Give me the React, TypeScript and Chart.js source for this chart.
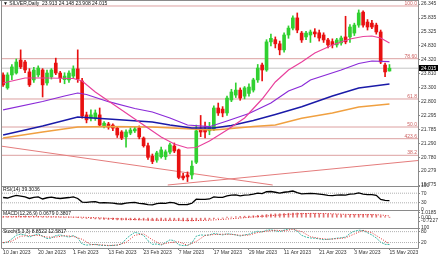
import React, { useEffect, useRef } from 'react';
import { Chart, registerables } from 'chart.js';

Chart.register(...registerables);

// ---------------- data ----------------
const dateTickIdx = [0, 8, 16, 24, 32, 40, 48, 56, 64, 72, 80, 88];
const dateLabels = ['10 Jan 2023', '20 Jan 2023', '1 Feb 2023', '13 Feb 2023', '23 Feb 2023', '7 Mar 2023', '17 Mar 2023', '29 Mar 2023', '11 Apr 2023', '21 Apr 2023', '3 May 2023', '15 May 2023'];
const priceTicks = [26.345, 25.835, 25.325, 24.83, 24.32, 23.81, 23.3, 22.8, 22.295, 21.785, 21.29, 20.78, 20.279, 19.775];

const opens = [
  23.77, 23.30, 23.77, 23.84, 24.31, 24.24, 23.88, 23.59, 23.77, 23.95,
  23.48, 23.70, 24.20, 23.84, 23.60, 23.59, 23.73, 23.99, 23.55, 22.32,
  22.20, 22.20, 22.32, 21.92, 21.99, 21.95, 21.84, 21.70, 21.52, 21.66,
  21.74, 21.84, 21.48, 21.20, 20.82, 20.68, 20.80, 20.80, 20.97, 21.19,
  21.05, 20.10, 20.14, 20.14, 20.60, 21.81, 21.80, 21.74, 21.80, 22.57,
  22.53, 22.39, 22.86, 23.04, 23.22, 23.00, 23.10, 23.22, 23.59, 24.13,
  23.95, 24.97, 25.05, 24.90, 24.68, 25.22, 25.47, 25.84, 25.29, 25.15,
  25.22, 25.33, 25.30, 25.22, 25.04, 24.98, 24.86, 24.93, 25.15, 25.15,
  25.29, 25.58, 26.05, 25.69, 25.65, 25.58, 25.33, 24.13, 23.913,
];
const highs = [
  23.85, 23.85, 24.15, 24.35, 24.68, 24.30, 24.00, 24.05, 24.10, 24.00,
  23.95, 24.00, 24.38, 23.90, 23.85, 23.92, 24.10, 24.68, 23.65, 22.42,
  22.50, 22.50, 22.57, 22.08, 22.05, 22.00, 21.90, 21.75, 21.78, 21.85,
  21.88, 21.92, 21.52, 21.30, 20.90, 21.00, 21.15, 21.05, 21.30, 21.30,
  21.08, 20.20, 20.25, 20.65, 21.95, 22.30, 22.06, 22.05, 22.65, 22.75,
  22.62, 23.00, 23.25, 23.48, 23.30, 23.35, 23.45, 23.65, 24.15, 24.20,
  25.05, 25.25, 25.15, 25.00, 25.30, 25.55, 25.92, 26.02, 25.35, 25.35,
  25.40, 25.45, 25.40, 25.30, 25.10, 25.08, 25.10, 25.18, 25.90, 25.60,
  25.65, 26.13, 26.10, 25.78, 25.75, 25.65, 25.40, 24.20, 24.148,
];
const lows = [
  23.35, 23.25, 23.60, 23.80, 24.00, 23.85, 23.35, 23.50, 23.70, 22.97,
  23.40, 23.62, 23.78, 23.50, 23.45, 23.50, 23.65, 23.50, 22.20, 22.03,
  22.10, 22.12, 21.90, 21.85, 21.80, 21.75, 21.50, 21.42, 21.15, 21.60,
  21.68, 21.45, 21.15, 20.70, 20.55, 20.60, 20.75, 20.70, 20.90, 20.95,
  20.00, 19.96, 19.90, 20.00, 20.55, 21.53, 21.48, 21.60, 21.75, 22.30,
  22.25, 22.30, 22.80, 22.95, 22.85, 22.90, 23.00, 23.15, 23.50, 23.55,
  23.90, 24.82, 24.75, 24.50, 24.60, 25.10, 25.40, 25.30, 24.95, 25.05,
  24.95, 25.15, 25.00, 24.95, 24.75, 24.75, 24.78, 24.85, 24.90, 24.95,
  25.20, 25.50, 25.50, 25.40, 25.45, 25.25, 24.18, 23.71, 23.908,
];
const closes = [
  23.41, 23.77, 24.06, 24.24, 24.06, 23.95, 23.41, 23.95, 24.02, 23.41,
  23.84, 23.95, 23.84, 23.66, 23.73, 23.84, 23.99, 23.62, 22.28, 22.14,
  22.32, 22.39, 21.95, 22.02, 21.88, 21.84, 21.59, 21.48, 21.70, 21.77,
  21.81, 21.52, 21.20, 20.78, 20.63, 20.94, 21.05, 20.98, 21.23, 21.01,
  20.05, 20.03, 20.07, 20.46, 21.74, 21.70, 21.70, 21.85, 22.57, 22.39,
  22.39, 22.93, 23.15, 23.22, 22.93, 23.30, 23.33, 23.59, 24.02, 23.95,
  24.97, 25.10, 24.90, 24.68, 25.22, 25.47, 25.84, 25.40, 25.04, 25.29,
  25.33, 25.26, 25.11, 25.04, 24.86, 24.86, 25.04, 25.11, 24.97, 25.51,
  25.58, 26.02, 25.58, 25.51, 25.51, 25.33, 24.24, 23.88, 24.015,
];

// moving averages: [bar, price]
const ma20Pts = [[0, 23.478], [5, 23.659], [10, 23.659], [16, 23.641], [18, 23.55], [21, 23.151], [25, 22.715], [29, 22.28], [33, 21.844], [36, 21.517], [39, 21.263], [42, 21.118], [44, 21.136], [47, 21.372], [51, 21.772], [55, 22.207], [59, 22.897], [62, 23.514], [65, 23.95], [68, 24.24], [71, 24.567], [75, 24.857], [79, 25.075], [82, 25.165], [84, 25.184], [86, 25.111], [88, 24.93]];
const ma50Pts = [[0, 22.5], [9, 22.806], [14, 23.006], [17, 23.115], [19, 23.06], [24, 22.799], [30, 22.552], [34, 22.425], [38, 22.207], [42, 21.953], [47, 21.891], [51, 22.098], [56, 22.37], [61, 22.752], [65, 23.187], [68, 23.369], [70, 23.587], [77, 23.95], [81, 24.185], [84, 24.276], [88, 24.251]];
const ma100Pts = [[0, 21.59], [9, 21.917], [17, 22.243], [24, 22.171], [34, 22.062], [38, 21.953], [43, 21.844], [48, 21.844], [52, 21.935], [57, 22.116], [62, 22.334], [68, 22.617], [75, 23.006], [81, 23.296], [88, 23.441]];
const ma200Pts = [[0, 21.481], [9, 21.699], [17, 21.88], [24, 21.899], [34, 21.88], [43, 21.808], [48, 21.772], [52, 21.826], [57, 21.899], [62, 21.953], [68, 22.196], [75, 22.389], [81, 22.606], [88, 22.715]];

const fibLevels = [26.273, 24.36, 22.897, 21.88, 21.456, 20.853];
const fibNames = ['100.0', '78.60', '61.8', '50.0', '423.6', '38.2'];

const trendDown = [[-0.25, 21.182], [61.4, 19.775]];
const trendUp = [[37.5, 19.775], [94.5, 20.664]];

const rsiVals = [
  52, 50, 56, 61, 58, 55, 48, 53, 55, 46,
  51, 54, 50, 48, 50, 52, 55, 48, 33, 32,
  34, 35, 30, 31, 30, 29, 26, 25, 29, 31,
  32, 28, 26, 22, 21, 27, 29, 28, 32, 30,
  22, 22, 23, 28, 45, 44, 44, 46, 55, 53,
  53, 59, 62, 63, 59, 62, 63, 66, 70, 68,
  76, 77, 74, 70, 74, 76, 79, 72, 67, 68,
  69, 68, 66, 64, 61, 60, 62, 63, 62, 66,
  67, 71, 66, 64, 64, 61, 44, 40, 39.3036,
];
const rsiLevels = [70, 30];
const rsiTicks = [100, 70, 30, 0];

const macdVals = [
  0.20, 0.19, 0.21, 0.26, 0.28, 0.27, 0.22, 0.21, 0.21, 0.16,
  0.15, 0.15, 0.16, 0.13, 0.10, 0.09, 0.10, 0.06, -0.06, -0.16,
  -0.22, -0.26, -0.32, -0.36, -0.40, -0.43, -0.47, -0.50, -0.50, -0.49,
  -0.48, -0.49, -0.52, -0.57, -0.62, -0.62, -0.60, -0.58, -0.54, -0.53,
  -0.61, -0.68, -0.7227, -0.70, -0.57, -0.48, -0.40, -0.33, -0.20, -0.12,
  -0.06, 0.04, 0.14, 0.22, 0.27, 0.33, 0.37, 0.43, 0.52, 0.56,
  0.68, 0.77, 0.83, 0.85, 0.90, 0.96, 1.01, 1.0185, 0.97, 0.95,
  0.93, 0.90, 0.86, 0.82, 0.76, 0.70, 0.67, 0.64, 0.61, 0.63,
  0.65, 0.71, 0.71, 0.69, 0.65, 0.58, 0.40, 0.22, 0.0679,
];
const macdSignal = [[0, 0.2], [4, 0.22], [8, 0.23], [12, 0.19], [16, 0.13], [18, 0.1], [20, 0.04], [22, -0.04], [24, -0.14], [26, -0.24], [28, -0.33], [30, -0.41], [32, -0.46], [34, -0.51], [36, -0.55], [38, -0.57], [40, -0.57], [42, -0.6], [44, -0.62], [46, -0.58], [48, -0.48], [50, -0.36], [52, -0.22], [54, -0.08], [56, 0.09], [58, 0.24], [60, 0.38], [62, 0.52], [64, 0.66], [66, 0.78], [68, 0.88], [70, 0.93], [72, 0.92], [74, 0.88], [76, 0.8], [78, 0.72], [80, 0.67], [82, 0.66], [84, 0.67], [86, 0.6], [88, 0.3807]];
const macdTicks = [1.0185, 0, -0.7227];
const macdTickLabels = ['1.0185', '0.00', '-0.7227'];

const stochMain = [
  18, 22, 40, 60, 66, 62, 50, 60, 68, 55,
  42, 45, 58, 62, 55, 50, 58, 45, 12, 6,
  8, 10, 5, 4, 3, 4, 6, 12, 40, 60,
  76, 70, 60, 30, 10, 12, 6, 20, 35, 30,
  8, 3, 4, 18, 55, 62, 60, 62, 70, 66,
  62, 68, 66, 62, 56, 62, 66, 75, 82, 78,
  88, 90, 85, 80, 88, 95, 96, 82, 60, 50,
  45, 44, 40, 36, 38, 40, 44, 46, 50, 70,
  82, 88, 86, 74, 62, 45, 22, 10, 8.8522,
];
const stochSignal = [[0, 20], [2, 28], [4, 55], [6, 58], [8, 60], [10, 50], [12, 50], [14, 58], [16, 54], [18, 38], [20, 9], [22, 8], [24, 4], [26, 6], [28, 20], [30, 60], [32, 68], [34, 35], [36, 10], [38, 20], [40, 24], [42, 5], [44, 26], [46, 59], [48, 64], [50, 66], [52, 65], [54, 60], [56, 61], [58, 75], [60, 83], [62, 88], [64, 84], [66, 93], [68, 80], [70, 52], [72, 43], [74, 38], [76, 41], [78, 46], [80, 67], [82, 87], [84, 74], [86, 43], [88, 12.5817]];
const stochLevels = [80, 20];
const stochTicks = [100, 80, 20];

// ---------------- style ----------------
const X_MIN = -0.25;
const X_MAX = 94.5;
const FONT = "'Liberation Sans', Arial, sans-serif";
const FS = 5;
const TXT = '#333333';
const FRAME = '#8a8a8a';
const BULL = '#30d030';
const BEAR = '#e81010';
const PINK = '#e8409c';
const PURPLE = '#8a2ad8';
const BLUE = '#1a1aa8';
const ORANGE = '#f0a040';
const FIB = '#dca0a0';
const FIB_TXT = '#cc5f5f';
const TREND = '#e47c7c';

export default function App() {
  const ref = useRef<HTMLCanvasElement | null>(null);

  useEffect(() => {
    document.body.style.margin = '0';
    const canvas = ref.current;
    if (!canvas) return;
    const last = closes.length - 1;
    const xy = (arr: number[][]) => arr.map(([x, y]) => ({ x, y }));
    const series = (arr: number[]) => arr.map((y, x) => ({ x, y }));
    const hline = (v: number) => [{ x: X_MIN, y: v }, { x: X_MAX, y: v }];
    const line = (data: any, color: string, yAxisID: string, order: number, extra: any = {}) => ({
      type: 'line', data, borderColor: color, borderWidth: 1, pointRadius: 0, yAxisID, order, fill: false, tension: 0, ...extra,
    });
    const candleColors = opens.map((o, i) => (closes[i] >= o ? BULL : BEAR));
    const tickFont = { family: FONT, size: FS };

    const yAxis = (weight: number, min: number, max: number, ticks: number[], cb: any) => ({
      type: 'linear', position: 'right', stack: 'panes', stackWeight: weight, min, max, bounds: 'data', offset: false,
      afterBuildTicks: (s: any) => { s.ticks = ticks.map((v) => ({ value: v })); },
      afterFit: (s: any) => { s.width = 22; s.paddingTop = 0; s.paddingBottom = 0; },
      ticks: { autoSkip: false, padding: 1, font: tickFont, color: TXT, callback: cb },
      grid: { drawOnChartArea: false, drawTicks: true, tickLength: 2, color: FRAME },
      border: { display: false },
    });

    const overlay = {
      id: 'overlay',
      afterDraw(chart: any) {
        const ctx = chart.ctx;
        const a = chart.chartArea;
        const ids = ['y', 'rsi', 'macd', 'sto'];
        ctx.save();
        // frames
        ctx.strokeStyle = FRAME;
        ctx.lineWidth = 1;
        ctx.beginPath();
        ctx.moveTo(Math.round(a.left) - 0.5, 0);
        ctx.lineTo(Math.round(a.left) - 0.5, Math.round(a.bottom) + 0.5);
        ctx.moveTo(Math.round(a.right) + 0.5, 0);
        ctx.lineTo(Math.round(a.right) + 0.5, Math.round(a.bottom) + 0.5);
        ctx.moveTo(0, 0.5);
        ctx.lineTo(Math.round(a.right) + 0.5, 0.5);
        ids.forEach((id) => {
          const s = chart.scales[id];
          const yb = Math.round(s.bottom) + 0.5;
          ctx.moveTo(Math.round(a.left) - 0.5, yb);
          ctx.lineTo(Math.round(a.right) + 0.5, yb);
        });
        ctx.stroke();

        ctx.font = `${FS}px ${FONT}`;
        // fib labels
        const py = chart.scales.y;
        ctx.fillStyle = FIB_TXT;
        ctx.textAlign = 'right';
        ctx.textBaseline = 'bottom';
        fibLevels.forEach((v, i) => {
          ctx.fillText(fibNames[i], a.right - 1, py.getPixelForValue(v));
        });
        // titles
        ctx.fillStyle = '#111111';
        ctx.textAlign = 'left';
        ctx.textBaseline = 'middle';
        const ohlc = [opens[last], highs[last], lows[last], closes[last]].map((v) => v.toFixed(3)).join(' ');
        ctx.fillText('\u25BC SILVER,Daily  ' + ohlc, a.left + 1, 4);
        ctx.fillText('RSI(14) ' + rsiVals[last].toFixed(4), a.left + 1, chart.scales.rsi.top + 4);
        ctx.fillText('MACD(12,26,9) ' + macdVals[last].toFixed(4) + ' ' + macdSignal[macdSignal.length - 1][1].toFixed(4), a.left + 1, chart.scales.macd.top + 3.5);
        ctx.fillText('Stoch(5,3,3) ' + stochMain[last].toFixed(4) + ' ' + stochSignal[stochSignal.length - 1][1].toFixed(4), a.left + 1, chart.scales.sto.top + 3.5);
        // current price box
        const yc = py.getPixelForValue(closes[last]);
        ctx.fillStyle = '#000000';
        ctx.fillRect(a.right + 1, Math.round(yc) - 3, 19, 6);
        ctx.fillStyle = '#ffffff';
        ctx.fillText(closes[last].toFixed(3), a.right + 3, yc);
        ctx.restore();
      },
    };

    const datasets: any[] = [];
    fibLevels.forEach((v) => datasets.push(line(hline(v), FIB, 'y', 30)));
    datasets.push(line(hline(closes[last]), '#c4c4c4', 'y', 30));
    datasets.push(line(xy(trendDown), TREND, 'y', 29));
    datasets.push(line(xy(trendUp), TREND, 'y', 29));
    datasets.push({
      type: 'bar', data: opens.map((_, i) => ({ x: i, y: [lows[i], highs[i]] })), yAxisID: 'y', order: 20,
      backgroundColor: candleColors, barThickness: 1, grouped: false, borderWidth: 0,
    });
    datasets.push({
      type: 'bar', data: opens.map((o, i) => ({ x: i, y: [o, closes[i]] })), yAxisID: 'y', order: 19,
      backgroundColor: candleColors, barThickness: 3, grouped: false, borderWidth: 0, minBarLength: 1,
    });
    datasets.push(line(xy(ma200Pts), ORANGE, 'y', 4, { borderWidth: 1.4 }));
    datasets.push(line(xy(ma100Pts), BLUE, 'y', 3, { borderWidth: 1.4 }));
    datasets.push(line(xy(ma50Pts), PURPLE, 'y', 2, { borderWidth: 1.2 }));
    datasets.push(line(xy(ma20Pts), PINK, 'y', 1, { borderWidth: 1.2 }));
    // RSI
    rsiLevels.forEach((v) => datasets.push(line(hline(v), '#b0b0b0', 'rsi', 5, { borderDash: [1, 1] })));
    datasets.push(line(series(rsiVals), '#000000', 'rsi', 1, { borderWidth: 1.3 }));
    // MACD
    datasets.push({
      type: 'bar', data: series(macdVals), yAxisID: 'macd', order: 5,
      backgroundColor: '#e07070', barThickness: 1, grouped: false, borderWidth: 0,
    });
    datasets.push(line(xy(macdSignal), '#e02020', 'macd', 1, { borderDash: [1, 1.5] }));
    // Stochastic
    stochLevels.forEach((v) => datasets.push(line(hline(v), '#b0b0b0', 'sto', 5, { borderDash: [1, 1] })));
    datasets.push(line(series(stochMain), '#40b8a8', 'sto', 2, { borderDash: [2, 1] }));
    datasets.push(line(xy(stochSignal), '#e03030', 'sto', 1, { borderDash: [1, 1.5] }));

    const chart = new Chart(canvas, {
      type: 'bar',
      data: { datasets },
      options: {
        animation: false,
        responsive: false,
        devicePixelRatio: 1,
        events: [],
        layout: { padding: { left: 2, top: 1, right: 0, bottom: 0 } },
        plugins: { legend: { display: false }, tooltip: { enabled: false } },
        scales: {
          x: {
            type: 'linear', position: 'bottom', min: X_MIN, max: X_MAX, bounds: 'data', offset: false,
            afterBuildTicks: (s: any) => { s.ticks = dateTickIdx.map((v) => ({ value: v })); },
            afterFit: (s: any) => { s.height = 6; s.paddingLeft = 0; s.paddingRight = 0; },
            ticks: {
              autoSkip: false, maxRotation: 0, minRotation: 0, align: 'start', padding: 0,
              font: tickFont, color: TXT, callback: (_v: any, i: number) => dateLabels[i],
            },
            grid: { drawOnChartArea: false, tickLength: 2, color: FRAME, offset: false },
            border: { display: false },
          },
          y: yAxis(185, 19.739, 26.454, priceTicks, (v: any) => Number(v).toFixed(3)),
          rsi: yAxis(24, 0, 100, rsiTicks, (v: any) => String(v)),
          macd: yAxis(18, -2.23, 1.667, macdTicks, (_v: any, i: number) => macdTickLabels[i]),
          sto: yAxis(20, -10, 100, stochTicks, (v: any) => String(v)),
        } as any,
      },
      plugins: [overlay],
    } as any);

    return () => chart.destroy();
  }, []);

  return <canvas ref={ref} width={440} height={254} style={{ display: 'block', width: 440, height: 254 }} />;
}
